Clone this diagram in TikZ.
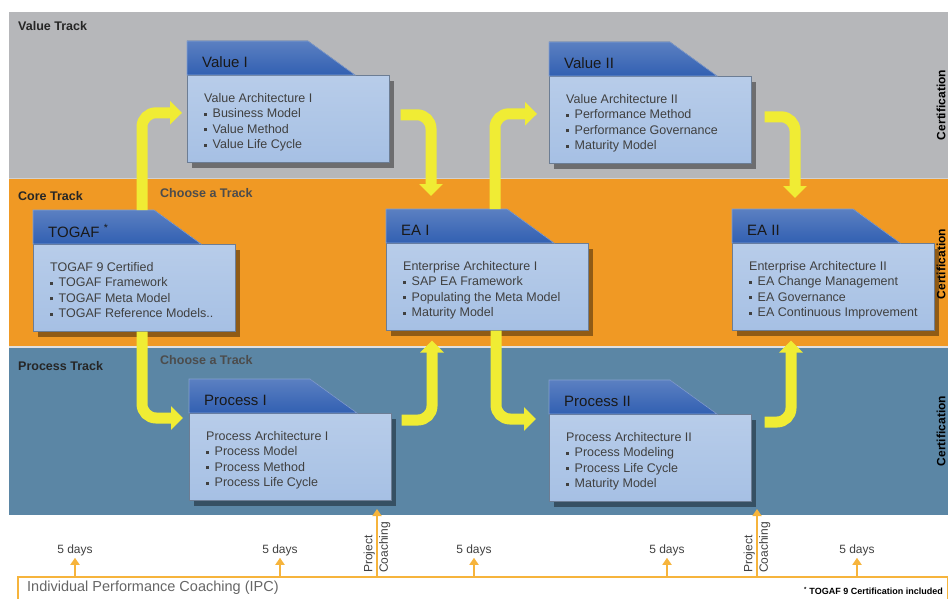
\documentclass[tikz,border=0pt]{standalone}
\usepackage{fontspec}
\setmainfont{Liberation Sans}
\usetikzlibrary{arrows.meta,shadows}
\tikzset{% change default arrow tips
    >={Triangle[length=7pt,width=9pt]}
}
\definecolor{valuegrey}{RGB}{182,183,186}
\definecolor{coreorange}{RGB}{240,153,36}
\definecolor{processblue}{RGB}{91,134,165}
\definecolor{tabblue}{RGB}{50,96,178}
\definecolor{bodyblue}{RGB}{166,192,228}
\definecolor{flowyellow}{RGB}{240,236,52}
\definecolor{ipcorange}{RGB}{246,180,60}
\newcommand{\itm}{\raisebox{1.8pt}{\rule{3pt}{3pt}}\hspace{5.5pt}}

\begin{document}
\begin{tikzpicture}[x=1pt,y=-1pt]
    \newcommand{\tabh}{34} % height of the dark tab on top of a course
    \newcommand{\rad}{14pt} % bend of the yellow arrows

    % set the styles of the picture
    \tikzset{
        body/.style={
            rectangle, anchor=north west, inner sep=0pt,
            minimum width=202pt, minimum height=87pt,
            top color=bodyblue!80!white, bottom color=bodyblue,
            draw=bodyblue!65!black, line width=0.6pt,
            drop shadow={shadow xshift=5pt, shadow yshift=-6pt, opacity=.4, fill=black}
            },
        tab/.style={
            top color=tabblue!80!white, bottom color=tabblue,
            draw=tabblue!60!white, line width=0.6pt
            },
        title/.style={anchor=west, inner sep=0pt, text=black!90,
            font=\fontsize{15}{17}\selectfont},
        items/.style={anchor=north west, inner sep=0pt, align=left, text=black!75,
            font=\fontsize{12.5}{15.5}\selectfont},
        track/.style={anchor=west, inner sep=0pt, text=black!85,
            font=\fontsize{12.5}{14}\selectfont\bfseries},
        choose/.style={anchor=west, inner sep=0pt, text=black!70,
            font=\fontsize{12.5}{14}\selectfont\bfseries},
        cert/.style={rotate=90, inner sep=0pt, text=black,
            font=\fontsize{12}{14}\selectfont\bfseries},
        flow/.style={
            draw=flowyellow, line width=11pt, rounded corners=\rad,
            -{Triangle[length=12pt,width=23pt]}
            },
        coach/.style={draw=ipcorange, line width=2pt, ->},
        days/.style={inner sep=2pt, text=black!75, font=\fontsize{12}{14}\selectfont},
        coachtext/.style={rotate=90, inner sep=0pt, text=black!75,
            font=\fontsize{12}{13}\selectfont}
    }

    \useasboundingbox (0,0) rectangle (948,599);

    % tracks
    \fill[valuegrey] (9,12) rectangle (948,178);
    \fill[coreorange] (9,179) rectangle (948,346);
    \fill[processblue] (9,348) rectangle (948,515);
    \draw[white!82!black, line width=1.5pt] (9,178.5) -- (948,178.5);
    \draw[white!88!black, line width=1.5pt] (9,347) -- (948,347);

    \node[track] (value track) at (18,26) {Value Track};
    \node[track] (core track) at (18,196) {Core Track};
    \node[track] (process track) at (18,366) {Process Track};
    \node[choose] (choose core) at (160,193) {Choose a Track};
    \node[choose] (choose process) at (160,360) {Choose a Track};

    \node[cert] (cert value) at (941,105) {Certification};
    \node[cert] (cert core) at (941,264) {Certification};
    \node[cert] (cert process) at (941,431) {Certification};

    % course boxes: name, left, top of the light part, title, items
    \newcommand{\course}[5]{
        \node[body] (#1) at (#2,#3) {};
        \filldraw[tab] (#1.north west) -- ++(0,-\tabh) -- ++(121,0) -- ([xshift=168pt]#1.north west) -- cycle;
        \node[title] (#1 title) at ([shift={(15,-13)}]#1.north west) {#4};
        \node[items] (#1 items) at ([shift={(17,18)}]#1.north west) {#5};
    }

    \course{togaf}{33}{244}{TOGAF \textsuperscript{*}}{TOGAF 9 Certified\\ \itm TOGAF Framework\\ \itm TOGAF Meta Model\\ \itm TOGAF Reference Models..}
    \course{val1}{187}{75}{Value I}{Value Architecture I\\ \itm Business Model\\ \itm Value Method\\ \itm Value Life Cycle}
    \course{val2}{549}{76}{Value II}{Value Architecture II\\ \itm Performance Method\\ \itm Performance Governance\\ \itm Maturity Model}
    \course{ea1}{386}{243}{EA I}{Enterprise Architecture I\\ \itm SAP EA Framework\\ \itm Populating the Meta Model\\ \itm Maturity Model}
    \course{ea2}{732}{243}{EA II}{Enterprise Architecture II\\ \itm EA Change Management\\ \itm EA Governance\\ \itm EA Continuous Improvement}
    \course{proc1}{189}{413}{Process I}{Process Architecture I\\ \itm Process Model\\ \itm Process Method\\ \itm Process Life Cycle}
    \course{proc2}{549}{414}{Process II}{Process Architecture II\\ \itm Process Modeling\\ \itm Process Life Cycle\\ \itm Maturity Model}

    % yellow arrows between the courses
    \draw[flow, shorten >=5pt] ([shift={(109,-\tabh)}]togaf.north west) |- ([yshift=6pt]val1.west);
    \draw[flow, shorten >=6pt] ([xshift=109pt]togaf.south west) |- ([yshift=-5pt]proc1.north west);
    \draw[flow, shorten >=13pt] ([shift={(11,-4)}]val1.east) -| ([shift={(45,-\tabh)}]ea1.north west);
    \draw[flow, shorten >=12pt] ([shift={(109,-\tabh)}]ea1.north west) |- ([yshift=6pt]val2.west);
    \draw[flow, shorten >=11pt] ([shift={(13,-3)}]val2.east) -| ([shift={(63,-\tabh)}]ea2.north west);
    \draw[flow, shorten >=10pt] ([shift={(10,7)}]proc1.north east) -| ([xshift=46pt]ea1.south west);
    \draw[flow, shorten >=13pt] ([xshift=110pt]ea1.south west) |- ([yshift=-5pt]proc2.north west);
    \draw[flow, shorten >=10pt] ([shift={(13,8)}]proc2.north east) -| ([xshift=59pt]ea2.south west);

    % individual performance coaching
    \node[draw=ipcorange, line width=1.5pt, anchor=north west, minimum width=930pt, minimum height=40pt] (ipc) at (17,576) {};
    \node[anchor=west, inner sep=0pt, text=black!60, font=\fontsize{14.5}{16}\selectfont] (ipc text) at (27,588) {Individual Performance Coaching (IPC)};
    \node[anchor=east, inner sep=0pt, font=\fontsize{9}{10}\selectfont\bfseries] (togaf note) at (943,591) {\textsuperscript{*} TOGAF 9 Certification included};

    \foreach \x [count=\i] in {75,280,474,667,857}
    {
        \node[days] (days\i) at (\x,550) {5 days};
        \draw[coach] (ipc.north -| days\i) -- (days\i.south);
    }

    % project coaching
    \foreach \x/\n in {377/1,757/2}
    {
        \coordinate (reach\n) at (\x,509);
        \draw[coach] (ipc.north -| reach\n) -- (reach\n);
        \node[coachtext, anchor=south west] (project\n) at (\x-2,573) {Project};
        \node[coachtext, anchor=north west] (coaching\n) at (\x+2,573) {Coaching};
    }
\end{tikzpicture}
\end{document}
